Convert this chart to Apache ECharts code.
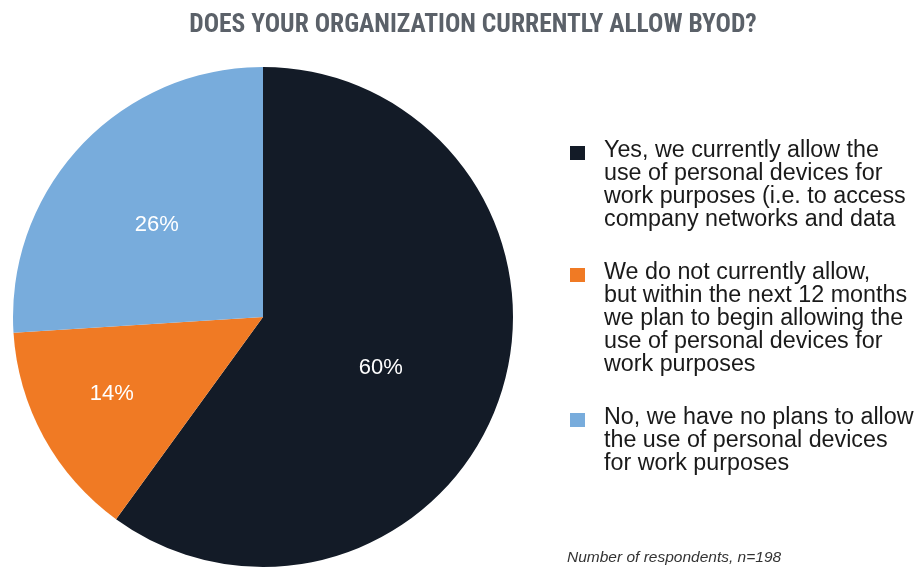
<!DOCTYPE html>
<html><head><meta charset="utf-8">
<script src="https://cdn.jsdelivr.net/npm/echarts@6/dist/echarts.min.js"></script>
<style>html,body{margin:0;padding:0;background:#fff}#c{width:919px;height:567px}</style>
</head><body><div id="c"></div>
<script>
const title = 'DOES YOUR ORGANIZATION CURRENTLY ALLOW BYOD?';
const categories = [
  'Yes, we currently allow the\nuse of personal devices for\nwork purposes (i.e. to access\ncompany networks and data',
  'We do not currently allow,\nbut within the next 12 months\nwe plan to begin allowing the\nuse of personal devices for\nwork purposes',
  'No, we have no plans to allow\nthe use of personal devices\nfor work purposes'
];
const values = [60, 14, 26];
const colors = ['#131b27', '#f07a24', '#78acdc'];
const labelOffsets = [[-4, 11], [-39, 15], [-13, -4]];
const footnote = 'Number of respondents, n=198';

const chart = echarts.init(document.getElementById('c'), null, {renderer: 'canvas'});
const legendTops = [139, 261, 406];
const graphics = [];
categories.forEach((c, i) => {
  graphics.push({type: 'rect', left: 570, top: legendTops[i] + 7, shape: {width: 15, height: 14}, style: {fill: colors[i]}});
  graphics.push({type: 'text', left: 604, top: legendTops[i], style: {text: c, fill: '#1a1a1a', font: '23.3px "Liberation Sans", Arial, sans-serif', lineHeight: 23}});
});
graphics.push({type: 'text', left: 567, top: 550, style: {text: footnote, fill: '#333', font: 'italic 15.5px "Liberation Sans", Arial, sans-serif'}});

chart.setOption({
  animation: false,
  title: {
    text: title, left: 468, top: 8, textAlign: 'center',
    textStyle: {color: '#5b6169', fontSize: 25.5, fontWeight: 'bold', fontFamily: '"Liberation Sans Narrow", "Roboto Condensed", "Liberation Sans", sans-serif'}
  },
  graphic: graphics,
  series: [{
    type: 'pie',
    center: [263, 317],
    radius: [0, 250],
    startAngle: 90,
    clockwise: true,
    silent: true,
    label: {
      show: true, position: 'inside', color: '#fff', fontSize: 22,
      fontFamily: '"Liberation Sans", Arial, sans-serif',
      formatter: p => p.value + '%'
    },
    labelLine: {show: false},
    itemStyle: {borderWidth: 0},
    data: values.map((v, i) => ({
      value: v, name: categories[i],
      itemStyle: {color: colors[i]},
      label: {offset: labelOffsets[i]}
    }))
  }]
});
</script></body></html>
